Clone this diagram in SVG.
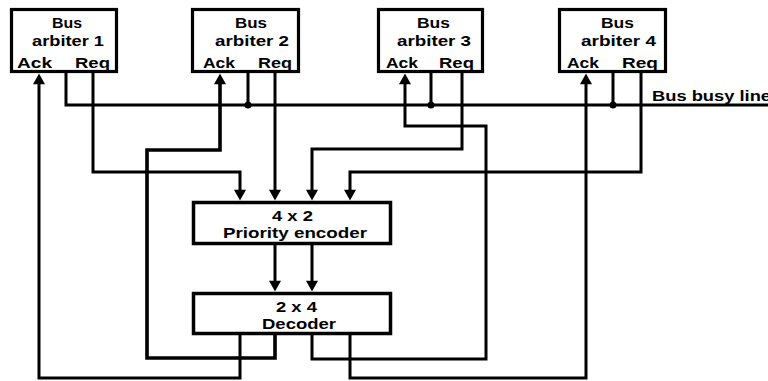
<svg xmlns="http://www.w3.org/2000/svg" width="768" height="381" viewBox="0 0 768 381">
<style>
.box{fill:#fff;stroke:#000;stroke-width:3.2}
.t{font-family:"Liberation Sans",Arial,sans-serif;font-weight:bold;font-size:15.5px;fill:#000}
.w{fill:none;stroke:#000;stroke-width:3;stroke-linejoin:miter;stroke-linecap:square}
.a{marker-end:url(#ah)}
</style>
<defs>
<marker id="ah" markerUnits="userSpaceOnUse" markerWidth="12" markerHeight="12" viewBox="0 0 10 11" refX="4" refY="5.5" orient="auto">
<path d="M0,0 L10,5.5 L0,11 z" fill="#000"/>
</marker>
</defs>
<rect width="768" height="381" fill="#fff"/>

<g id="connectors">
<!-- bus busy line -->
<path class="w" d="M66,74 V105 H768"/>
<path class="w" d="M248,74 V105"/>
<path class="w" d="M431,74 V105"/>
<path class="w" d="M613,74 V105"/>
<circle cx="248" cy="105" r="3.5"/>
<circle cx="431" cy="105" r="3.5"/>
<circle cx="613" cy="105" r="3.5"/>
<!-- requests -->
<path class="w a" d="M93,74 V172 H240 V194"/>
<path class="w a" d="M275,74 V194"/>
<path class="w a" d="M462,74 V149 H312 V194"/>
<path class="w a" d="M641,74 V172 H350 V194"/>
<!-- encoder to decoder -->
<path class="w a" d="M275,245 V285"/>
<path class="w a" d="M312,245 V285"/>
<!-- acknowledges -->
<path class="w a" d="M240,335 V378 H39 V80"/>
<path class="w a" d="M275,335 V358 H147 V150 H220 V80" style="stroke-width:3.6"/>
<path class="w a" d="M312,335 V359 H486 V126 H405 V80"/>
<path class="w a" d="M350,335 V378 H586 V80"/>
</g>

<g id="arbiter1">
<rect class="box" x="11.5" y="9.5" width="105" height="62"/>
<text class="t" x="52" y="28" textLength="30" lengthAdjust="spacingAndGlyphs">Bus</text>
<text class="t" x="32" y="46" textLength="72" lengthAdjust="spacingAndGlyphs">arbiter 1</text>
<text class="t" x="17" y="68" textLength="35" lengthAdjust="spacingAndGlyphs">Ack</text>
<text class="t" x="75" y="68" textLength="35" lengthAdjust="spacingAndGlyphs">Req</text>
</g>
<g id="arbiter2">
<rect class="box" x="192.5" y="9.5" width="106" height="62"/>
<text class="t" x="235" y="28" textLength="32" lengthAdjust="spacingAndGlyphs">Bus</text>
<text class="t" x="215" y="46" textLength="74" lengthAdjust="spacingAndGlyphs">arbiter 2</text>
<text class="t" x="203" y="68" textLength="32" lengthAdjust="spacingAndGlyphs">Ack</text>
<text class="t" x="258" y="68" textLength="34" lengthAdjust="spacingAndGlyphs">Req</text>
</g>
<g id="arbiter3">
<rect class="box" x="378.5" y="9.5" width="104" height="62"/>
<text class="t" x="417" y="28" textLength="33" lengthAdjust="spacingAndGlyphs">Bus</text>
<text class="t" x="397" y="46" textLength="74" lengthAdjust="spacingAndGlyphs">arbiter 3</text>
<text class="t" x="386" y="68" textLength="32" lengthAdjust="spacingAndGlyphs">Ack</text>
<text class="t" x="439" y="68" textLength="35" lengthAdjust="spacingAndGlyphs">Req</text>
</g>
<g id="arbiter4">
<rect class="box" x="559.5" y="9.5" width="106" height="62"/>
<text class="t" x="601" y="28" textLength="33" lengthAdjust="spacingAndGlyphs">Bus</text>
<text class="t" x="581" y="46" textLength="75" lengthAdjust="spacingAndGlyphs">arbiter 4</text>
<text class="t" x="567" y="68" textLength="32" lengthAdjust="spacingAndGlyphs">Ack</text>
<text class="t" x="622" y="68" textLength="36" lengthAdjust="spacingAndGlyphs">Req</text>
</g>
<g id="encoder">
<rect class="box" x="193.5" y="202.5" width="197" height="41" style="stroke-width:3.5"/>
<text class="t" x="272" y="221" textLength="41" lengthAdjust="spacingAndGlyphs">4 x 2</text>
<text class="t" x="223" y="238" textLength="144" lengthAdjust="spacingAndGlyphs">Priority encoder</text>
</g>
<g id="decoder">
<rect class="box" x="193.5" y="293.5" width="197" height="40" style="stroke-width:3.5"/>
<text class="t" x="276" y="312" textLength="41" lengthAdjust="spacingAndGlyphs">2 x 4</text>
<text class="t" x="262" y="329" textLength="74" lengthAdjust="spacingAndGlyphs">Decoder</text>
</g>
<g id="busbusy">
<text class="t" x="652" y="101" textLength="119" lengthAdjust="spacingAndGlyphs">Bus busy line</text>
</g>
</svg>
